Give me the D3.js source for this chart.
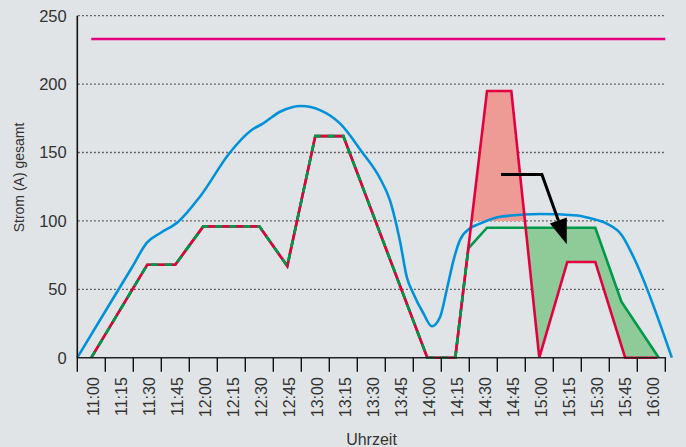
<!DOCTYPE html>
<html>
<head>
<meta charset="utf-8">
<script src="https://cdn.jsdelivr.net/npm/d3@7"></script>
<style>
  html, body { margin: 0; padding: 0; background: #e1e4e7; }
  svg { display: block; font-family: "Liberation Sans", Arial, sans-serif; }
</style>
</head>
<body>
<div id="chart"></div>
<script>
// x categories (15 minute slots)
const categories = ["11:00", "11:15", "11:30", "11:45", "12:00", "12:15", "12:30", "12:45",
  "13:00", "13:15", "13:30", "13:45", "14:00", "14:15", "14:30", "14:45",
  "15:00", "15:15", "15:30", "15:45", "16:00"];
const yTicks = [0, 50, 100, 150, 200, 250];

// times are minutes after 11:00
const blueTimes = [-7.5, 11, 22, 29.7, 36.8, 46.6, 58.2, 74.3, 85.9, 92.1, 101.1, 112.7, 122.5, 133.2,
  144.9, 154.7, 160, 165.4, 169, 172.5, 177.9, 182.4, 186.9, 190.4, 194, 197.5, 202.9, 208.2,
  218.9, 240.3, 260.2, 267.2, 276.1, 284.1, 290.4, 311];
const blueValues = [0, 41.8, 66.5, 84, 91, 99.4, 117.7, 150, 166.4, 171.3, 179.8, 184, 181, 171.3,
  150.6, 131, 115, 85, 59, 47, 32.5, 23, 30, 49.5, 71, 86, 94.6, 98,
  103, 105, 104, 102, 98, 89.7, 73.8, 0];

const redTimes = [0, 30, 45, 60, 90, 105, 120, 135, 180, 195, 212, 225, 240, 255, 270, 286, 303];
const redValues = [0, 68, 68, 96, 96, 67, 162, 162, 0, 0, 195, 195, 0, 70, 70, 0, 0];

const greenTimes = [0, 30, 45, 60, 90, 105, 120, 135, 180, 195, 202, 212, 270, 284, 304];
const greenValues = [0, 68, 68, 96, 96, 67, 162, 162, 0, 0, 80, 95, 95, 41, 0];
const sharedCount = 11; // first green points lie on the red line

const limitTimes = [0, 307.5];
const limitValue = 233;

const peakLimit = 100;
const peakWindow = [195, 240];

// arrow: [time, value]
const arrowPoints = [[219.5, 134], [241.4, 134], [254.7, 83]];

const W = 686, H = 447;
const plot = { left: 77.3, right: 665.3, top: 15.7, bottom: 357.7 };

const svg = d3.select("#chart").append("svg")
  .attr("width", W)
  .attr("height", H);

svg.append("rect").attr("width", W).attr("height", H).attr("fill", "#e1e4e7");

const x = d3.scaleLinear().domain([-7.5, 307.5]).range([plot.left, plot.right]);
const band = d3.scaleBand().domain(categories).range([plot.left, plot.right]);
const y = d3.scaleLinear().domain([0, 250]).range([plot.bottom, plot.top]);

const zip = (ts, vs) => ts.map((t, i) => ({ t: t, v: vs[i] }));
const blue = zip(blueTimes, blueValues);
const red = zip(redTimes, redValues);
const green = zip(greenTimes, greenValues);

// gridlines
svg.append("g")
  .selectAll("line")
  .data(yTicks.filter(d => d > 0))
  .enter().append("line")
  .attr("x1", plot.left + 1)
  .attr("x2", plot.right + 1)
  .attr("y1", d => y(d))
  .attr("y2", d => y(d))
  .attr("stroke", "#222")
  .attr("stroke-width", 1.3)
  .attr("stroke-dasharray", "1.3,2.7");

const defs = svg.append("defs");

// region above the red line
defs.append("clipPath").attr("id", "above-red")
  .append("path")
  .attr("d", d3.area().x(d => x(d.t)).y0(0).y1(d => y(d.v))(red));

defs.append("clipPath").attr("id", "above-limit")
  .append("rect")
  .attr("x", 0).attr("y", 0)
  .attr("width", W).attr("height", y(peakLimit));

// shifted load (green above red)
svg.append("path")
  .attr("d", d3.area().x(d => x(d.t)).y0(y(0)).y1(d => y(d.v))(green))
  .attr("clip-path", "url(#above-red)")
  .attr("fill", "#8ecb98");

// peak above limit
const peak = red.filter(d => d.t >= peakWindow[0] && d.t <= peakWindow[1]);
svg.append("path")
  .attr("d", d3.area().x(d => x(d.t)).y0(y(peakLimit)).y1(d => y(d.v))(peak))
  .attr("clip-path", "url(#above-limit)")
  .attr("fill", "#ee9a95");

const line = d3.line().x(d => x(d.t)).y(d => y(d.v));

svg.append("path")
  .attr("d", line(zip(limitTimes, [limitValue, limitValue])))
  .attr("fill", "none")
  .attr("stroke", "#e5007d")
  .attr("stroke-width", 2.5);

svg.append("path")
  .attr("d", d3.line().curve(d3.curveMonotoneX).x(d => x(d.t)).y(d => y(d.v))(blue))
  .attr("fill", "none")
  .attr("stroke", "#0092d8")
  .attr("stroke-width", 2.6);

svg.append("path")
  .attr("d", line(green))
  .attr("fill", "none")
  .attr("stroke", "#00984a")
  .attr("stroke-width", 2.6);

svg.append("path")
  .attr("d", line(red))
  .attr("fill", "none")
  .attr("stroke", "#e2003e")
  .attr("stroke-width", 2.6);

svg.append("path")
  .attr("d", line(green.slice(0, sharedCount)))
  .attr("fill", "none")
  .attr("stroke", "#00984a")
  .attr("stroke-width", 2.6)
  .attr("stroke-dasharray", "7,7");

// arrow
const ap = arrowPoints.map(p => [x(p[0]), y(p[1])]);
const tip = ap[ap.length - 1], prev = ap[ap.length - 2];
const len = Math.hypot(tip[0] - prev[0], tip[1] - prev[1]);
const ux = (tip[0] - prev[0]) / len, uy = (tip[1] - prev[1]) / len;
const headLen = 25, headHalf = 9;
const base = [tip[0] - ux * headLen, tip[1] - uy * headLen];

svg.append("path")
  .attr("d", d3.line()(ap.slice(0, -1).concat([base])))
  .attr("fill", "none")
  .attr("stroke", "#000")
  .attr("stroke-width", 3);

svg.append("path")
  .attr("d", d3.line()([
    [base[0] - uy * headHalf, base[1] + ux * headHalf],
    tip,
    [base[0] + uy * headHalf, base[1] - ux * headHalf]
  ]) + "Z")
  .attr("fill", "#000");

// axes
svg.append("line")
  .attr("x1", plot.left).attr("x2", plot.left)
  .attr("y1", plot.top).attr("y2", plot.bottom)
  .attr("stroke", "#111").attr("stroke-width", 1.6);

svg.append("line")
  .attr("x1", plot.left - 0.5).attr("x2", plot.right + 0.8)
  .attr("y1", plot.bottom).attr("y2", plot.bottom)
  .attr("stroke", "#222").attr("stroke-width", 1.6);

svg.append("g")
  .selectAll("line")
  .data(d3.range(categories.length + 1))
  .enter().append("line")
  .attr("x1", i => plot.left + i * band.step())
  .attr("x2", i => plot.left + i * band.step())
  .attr("y1", plot.bottom)
  .attr("y2", plot.bottom + 14)
  .attr("stroke", "#111")
  .attr("stroke-width", 1.4);

svg.append("g")
  .selectAll("text")
  .data(categories)
  .enter().append("text")
  .attr("transform", d => `translate(${band(d) + band.bandwidth() / 2 + 7.7},${plot.bottom + 19.5}) rotate(-90)`)
  .attr("text-anchor", "end")
  .attr("fill", "#333")
  .style("font-size", "16px")
  .text(d => d);

svg.append("g")
  .selectAll("text")
  .data(yTicks)
  .enter().append("text")
  .attr("x", 66.7)
  .attr("y", d => y(d))
  .attr("dy", "0.36em")
  .attr("text-anchor", "end")
  .attr("fill", "#333")
  .style("font-size", "16.5px")
  .text(d => d);

svg.append("text")
  .attr("x", 371.5)
  .attr("y", 445)
  .attr("text-anchor", "middle")
  .attr("fill", "#333")
  .style("font-size", "16px")
  .text("Uhrzeit");

svg.append("text")
  .attr("transform", "translate(23.5,177.5) rotate(-90)")
  .attr("text-anchor", "middle")
  .attr("fill", "#333")
  .style("font-size", "14px")
  .text("Strom (A) gesamt");
</script>
</body>
</html>
